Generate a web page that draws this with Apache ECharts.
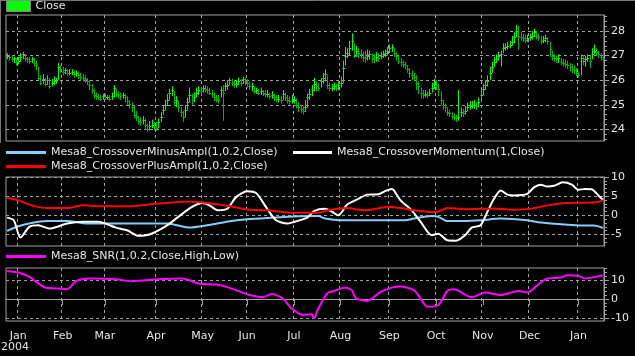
<!DOCTYPE html>
<html><head><meta charset="utf-8">
<script src="https://cdn.jsdelivr.net/npm/echarts@6/dist/echarts.min.js"></script>
<style>html,body{margin:0;padding:0;background:#000;}#c{width:635px;height:356px;}</style>
</head><body><div id="c"></div>
<script>
// ---- trading calendar ----
const firstDay = '2003-12-24';
const lastDay = '2005-01-19';
const holidays = ['2003-12-25','2004-01-01','2004-01-19','2004-02-16','2004-04-09','2004-05-31','2004-06-11','2004-07-05','2004-09-06','2004-11-25','2004-12-24','2005-01-17'];
const monthNames = ['Jan','Feb','Mar','Apr','May','Jun','Jul','Aug','Sep','Oct','Nov','Dec'];

// ---- price (Close) bars ----
const closes = [
27.0,26.95,26.85,26.9,26.75,26.8,26.95,27.05,26.9,26.85,
26.8,26.85,26.7,26.6,26.1,25.9,26.05,25.85,26.0,25.75,
25.9,25.95,26.0,26.55,26.45,26.35,26.4,26.3,26.3,26.35,
26.25,26.3,26.2,26.15,26.1,26.05,25.95,25.8,25.6,25.4,
25.35,25.3,25.25,25.35,25.3,25.3,25.25,25.35,25.7,25.45,
25.4,25.35,25.4,25.3,25.15,25.05,24.9,24.6,24.5,24.35,
24.3,24.4,24.2,24.0,24.15,24.2,24.1,24.05,24.3,24.5,
24.8,25.0,25.2,25.5,25.6,25.1,25.2,24.9,24.7,24.5,
24.8,25.1,25.4,25.2,25.3,25.5,25.6,25.55,25.7,25.65,
25.6,25.5,25.45,25.3,25.25,25.2,25.6,25.5,25.75,25.8,
26.0,25.9,25.85,25.85,25.95,25.9,26.05,25.95,25.9,25.75,
25.75,25.55,25.6,25.5,25.55,25.5,25.45,25.45,25.35,25.4,
25.3,25.25,25.25,25.2,25.45,25.3,25.2,25.15,25.2,25.2,
25.0,24.9,24.85,24.75,24.9,25.3,25.45,25.6,25.85,25.75,
25.7,25.95,26.1,26.25,25.8,25.7,25.7,25.75,25.7,25.8,
25.9,26.5,27.0,27.1,27.3,27.6,27.0,27.2,27.1,27.05,
26.95,26.9,27.0,27.05,26.9,26.85,26.95,26.9,27.0,27.05,
27.1,27.2,27.3,27.35,27.1,27.0,26.8,26.75,26.65,26.6,
26.45,26.3,26.2,26.15,25.9,25.75,25.5,25.4,25.45,25.4,
25.5,25.7,25.85,25.8,25.65,25.2,25.0,24.9,24.7,24.65,
24.55,24.5,24.45,24.5,24.7,24.65,24.75,24.9,24.95,25.0,
25.0,24.95,25.1,25.4,25.65,25.8,25.95,26.3,26.55,26.75,
26.85,27.0,27.05,27.3,27.35,27.4,27.45,27.55,27.75,28.0,
27.8,27.75,27.7,27.65,27.7,27.75,27.8,27.95,27.8,27.75,
27.6,27.65,27.7,27.6,27.25,27.0,26.9,26.85,26.9,26.75,
26.7,26.65,26.6,26.55,26.45,26.4,26.3,26.2,26.9,26.8,
26.85,26.9,26.8,27.05,27.2,27.15,27.05,26.95,26.85];
const highs = [
27.1,27.05,27.0,26.95,26.9,26.95,27.1,27.15,27.05,26.95,
26.95,26.95,26.9,26.8,26.55,26.2,26.25,26.1,26.2,26.1,
26.05,26.15,26.1,26.7,26.6,26.55,26.5,26.45,26.45,26.45,
26.4,26.4,26.35,26.3,26.25,26.2,26.1,26.0,25.85,25.65,
25.5,25.45,25.4,25.45,25.45,25.4,25.4,25.5,25.8,25.65,
25.55,25.5,25.5,25.45,25.35,25.2,25.1,24.95,24.75,24.55,
24.5,24.55,24.45,24.25,24.35,24.4,24.3,24.3,24.45,24.7,
24.95,25.2,25.45,25.65,25.75,25.55,25.35,25.15,24.9,24.75,
25.0,25.3,25.7,25.45,25.5,25.7,25.75,25.7,25.8,25.8,
25.75,25.7,25.6,25.5,25.4,25.4,25.75,25.8,25.9,26.0,
26.1,26.05,26.0,26.0,26.1,26.05,26.15,26.1,26.05,25.95,
25.9,25.75,25.7,25.65,25.7,25.6,25.6,25.6,25.5,25.55,
25.45,25.4,25.4,25.35,25.6,25.5,25.4,25.35,25.4,25.35,
25.25,25.1,25.0,24.95,25.2,25.45,25.65,25.8,26.1,25.95,
25.9,26.1,26.3,26.45,26.2,25.9,25.85,25.9,25.85,25.95,
26.15,26.8,27.35,27.3,27.6,27.9,27.5,27.4,27.3,27.25,
27.15,27.2,27.25,27.2,27.1,27.05,27.15,27.1,27.15,27.2,
27.25,27.35,27.45,27.45,27.3,27.15,27.0,26.9,26.8,26.75,
26.6,26.5,26.4,26.3,26.2,25.95,25.7,25.6,25.6,25.55,
25.65,25.9,26.05,26.0,25.85,25.55,25.2,25.05,24.9,24.8,
24.7,24.65,24.6,25.6,24.9,24.85,24.95,25.1,25.15,25.15,
25.2,25.1,25.3,25.6,25.85,26.0,26.2,26.55,26.75,26.95,
27.05,27.15,27.2,27.5,27.5,27.55,27.6,27.8,27.95,28.25,
28.2,27.95,27.9,27.85,27.85,27.9,28.0,28.1,28.0,27.9,
27.8,27.8,27.85,27.75,27.55,27.2,27.05,27.0,27.05,26.9,
26.85,26.85,26.8,26.7,26.65,26.6,26.5,26.35,27.05,27.0,
27.0,27.05,27.0,27.3,27.45,27.3,27.2,27.1,27.0];
const lows = [
26.85,26.8,26.75,26.7,26.6,26.65,26.75,26.85,26.75,26.7,
26.65,26.7,26.55,26.4,26.0,25.8,25.85,25.75,25.8,25.65,
25.75,25.8,25.85,26.0,26.3,26.2,26.25,26.15,26.2,26.2,
26.1,26.15,26.05,26.0,25.95,25.9,25.8,25.6,25.45,25.25,
25.2,25.2,25.15,25.2,25.2,25.2,25.15,25.2,25.3,25.3,
25.25,25.2,25.25,25.1,25.0,24.85,24.7,24.45,24.35,24.2,
24.15,24.2,24.0,23.9,23.95,24.05,23.95,23.95,24.05,24.3,
24.6,24.8,24.95,25.2,25.35,24.95,24.9,24.7,24.5,24.3,
24.5,24.8,25.1,25.0,25.1,25.3,25.4,25.4,25.5,25.5,
25.45,25.4,25.3,25.15,25.1,25.05,25.3,24.35,25.55,25.6,
25.8,25.75,25.7,25.7,25.8,25.75,25.85,25.8,25.7,25.6,
25.55,25.45,25.45,25.4,25.4,25.35,25.3,25.3,25.25,25.25,
25.15,25.1,25.1,25.05,25.2,25.15,25.05,25.0,25.05,25.05,
24.85,24.7,24.65,24.6,24.7,24.9,25.2,25.35,25.55,25.55,
25.55,25.7,25.85,25.95,25.65,25.55,25.55,25.6,25.55,25.6,
25.7,25.9,26.6,26.9,27.0,27.2,26.9,26.95,26.9,26.85,
26.75,26.7,26.8,26.85,26.7,26.7,26.75,26.75,26.85,26.9,
26.95,27.0,27.1,27.15,26.95,26.8,26.65,26.55,26.5,26.45,
26.3,26.1,26.0,25.95,25.6,25.45,25.25,25.25,25.3,25.25,
25.35,25.5,25.65,25.6,25.35,25.0,24.8,24.7,24.55,24.5,
24.4,24.35,24.3,24.35,24.5,24.5,24.6,24.75,24.8,24.85,
24.85,24.8,24.9,25.15,25.4,25.6,25.75,26.0,26.3,26.55,
26.7,26.8,26.55,27.1,27.2,27.25,27.3,27.4,27.5,27.75,
27.25,27.6,27.55,27.5,27.55,27.6,27.65,27.75,27.65,27.6,
27.45,27.5,27.55,27.45,26.95,26.8,26.75,26.7,26.7,26.6,
26.55,26.5,26.45,26.35,26.3,26.25,26.15,26.1,26.2,26.6,
26.55,26.75,26.5,26.85,27.05,27.0,26.9,26.8,26.75];

// ---- indicator lines: [trading-day index, value] ----
const minusAmpl = [[0,-4.05],[5,-2.85],[11,-2.0],[18,-1.5],[27,-1.5],[36,-2.15],[41,-2.1],[72,-2.1],[82,-3.2],[90,-2.6],[101,-1.5],[108,-1.05],[117,-0.7],[131,-0.25],[140,-0.2],[143,-0.85],[150,-1.3],[168,-1.3],[179,-1.3],[183,-0.85],[191,-0.15],[194,-0.4],[198,-1.5],[206,-1.5],[213,-1.3],[222,-0.85],[234,-1.3],[240,-1.9],[251,-2.4],[258,-2.65],[264,-2.65],[268,-3.3]];
const momentum = [[0,-0.6],[3,-1.3],[6,-5.8],[10,-3.0],[14,-2.6],[19,-3.45],[27,-2.15],[34,-1.7],[41,-1.7],[49,-3.2],[54,-3.9],[59,-5.35],[64,-5.0],[72,-2.6],[77,-0.4],[83,2.15],[88,3.2],[91,2.6],[95,1.3],[99,1.7],[103,4.75],[108,6.3],[112,5.8],[117,1.7],[121,-1.3],[126,-2.15],[128,-1.9],[135,-0.6],[138,1.1],[143,1.7],[146,1.0],[149,0.0],[153,2.8],[158,4.3],[162,5.4],[167,5.5],[170,6.3],[173,6.9],[174,6.5],[177,3.9],[182,1.3],[186,-1.7],[191,-5.2],[194,-4.8],[198,-6.5],[202,-6.6],[206,-5.2],[209,-3.2],[213,-2.6],[216,0.85],[219,4.3],[222,6.5],[225,5.4],[228,5.2],[234,5.6],[237,7.3],[240,8.0],[243,7.5],[246,7.7],[250,8.6],[254,8.0],[257,6.65],[260,6.9],[263,6.8],[266,5.2],[268,4.05]];
const plusAmpl = [[0,4.6],[5,3.9],[11,2.6],[18,1.9],[27,1.9],[34,2.6],[41,2.4],[56,2.4],[67,3.0],[82,3.6],[90,3.2],[101,2.3],[108,1.55],[117,1.3],[127,0.7],[140,0.7],[144,1.3],[153,1.9],[161,1.3],[171,2.15],[177,1.9],[183,1.3],[191,0.85],[194,1.0],[198,1.9],[206,1.6],[213,1.75],[221,1.75],[228,1.45],[236,1.75],[243,2.6],[251,3.2],[258,3.3],[265,3.4],[268,3.9]];
const snr = [[0,14.7],[5,13.9],[10,11.6],[17,6.1],[22,5.6],[27,5.2],[31,9.4],[37,10.8],[49,10.4],[56,9.4],[68,10.4],[79,10.8],[86,8.2],[94,7.6],[99,6.25],[109,2.1],[115,1.0],[119,2.6],[124,0.3],[128,-4.9],[133,-8.3],[137,-8.0],[138,-10.1],[140,-4.9],[144,3.0],[147,4.2],[152,6.1],[155,4.7],[157,0.3],[162,-1.0],[168,3.8],[173,6.0],[177,6.6],[183,4.7],[186,0.3],[189,-4.0],[194,-3.1],[198,4.2],[201,5.1],[209,0.9],[215,3.5],[222,2.1],[230,4.2],[234,3.5],[240,8.7],[243,10.8],[249,11.3],[252,12.5],[257,12.1],[260,10.8],[264,11.5],[268,12.5]];

// ---- tick labels ----
const priceTicks = [24,25,26,27,28];
const priceMinor = [23.6,23.8,24.2,24.4,24.6,24.8,25.2,25.4,25.6,25.8,26.2,26.4,26.6,26.8,27.2,27.4,27.6,27.8,28.2,28.4,28.6];
const midTicks = [-5,0,5,10];
const midMinor = [-7,-6,-4,-3,-2,-1,1,2,3,4,6,7,8,9];
const snrTicks = [-10,0,10];
const snrMinor = [-8,-6,-4,-2,2,4,6,8,12,14,16];

// build category dates
const days = [];
(function(){
  const hol = new Set(holidays);
  let d = new Date(firstDay + 'T00:00:00Z');
  const end = new Date(lastDay + 'T00:00:00Z');
  while (d <= end) {
    const wd = d.getUTCDay();
    const s = d.toISOString().slice(0,10);
    if (wd !== 0 && wd !== 6 && !hol.has(s)) days.push(s);
    d = new Date(d.getTime() + 86400000);
  }
})();
const isMonthStart = (i) => i > 0 && days[i].slice(0,7) !== days[i-1].slice(0,7);

const GRID_C = '#a0a0a0';
const TXT_C = '#e6e6e6';
const FONT = 'DejaVu Sans';
const FS = 11;
const dash = {color: GRID_C, type: [3,3], width: 1};

function xAxisFor(g, showLabels){
  return {
    type:'category', gridIndex:g, data:days, boundaryGap:true,
    axisLine:{show: showLabels, lineStyle:{color:GRID_C}},
    axisTick:{show: showLabels, alignWithLabel:true, length:6, interval:(i)=>isMonthStart(i), lineStyle:{color:GRID_C}},
    axisLabel:{show: showLabels, interval:(i)=>isMonthStart(i), formatter:(v)=>monthNames[parseInt(v.slice(5,7),10)-1], color:TXT_C, fontFamily:FONT, fontSize:FS, margin:10},
    splitLine:{show:true, interval:(i)=>isMonthStart(i), lineStyle:dash}
  };
}
function yMain(g, min, max, ticks){
  return {
    type:'value', gridIndex:g, position:'right', min:min, max:max, scale:true,
    axisLine:{show:true, lineStyle:{color:GRID_C}},
    axisTick:{show:true, length:5, customValues:ticks, lineStyle:{color:GRID_C}},
    axisLabel:{show:true, customValues:ticks, color:TXT_C, fontFamily:FONT, fontSize:FS, margin:7},
    splitLine:{show:true, lineStyle:dash}
  };
}
function yMinor(g, min, max, ticks){
  return {
    type:'value', gridIndex:g, position:'right', min:min, max:max, scale:true,
    axisLine:{show:false},
    axisTick:{show:true, length:3, customValues:ticks, lineStyle:{color:GRID_C}},
    axisLabel:{show:false}, splitLine:{show:false}
  };
}

const chart = echarts.init(document.getElementById('c'), null, {renderer:'canvas'});
const legendBase = {selectedMode:false, textStyle:{color:TXT_C, fontFamily:FONT, fontSize:FS}, itemGap:5, padding:0};
chart.setOption({
  backgroundColor:'#000',
  animation:false,
  grid:[
    {left:6, right:31, top:15, height:126, show:true, borderColor:GRID_C, borderWidth:1, backgroundColor:'#000'},
    {left:6, right:31, top:177, height:69, show:true, borderColor:GRID_C, borderWidth:1, backgroundColor:'#000'},
    {left:6, right:31, top:268, height:53, show:true, borderColor:GRID_C, borderWidth:1, backgroundColor:'#000'}
  ],
  xAxis:[xAxisFor(0,false), xAxisFor(1,false), xAxisFor(2,true)],
  yAxis:[
    yMain(0, 23.53, 28.65, priceTicks), yMinor(0, 23.53, 28.65, priceMinor),
    yMain(1, -8, 10, midTicks), yMinor(1, -8, 10, midMinor),
    yMain(2, -11.5, 16.3, snrTicks), yMinor(2, -11.5, 16.3, snrMinor)
  ],
  legend:[
    Object.assign({}, legendBase, {data:[{name:'Close', icon:'rect', itemStyle:{borderColor:'#8a8a8a', borderWidth:1}}], left:6, top:0, itemWidth:24, itemHeight:11}),
    Object.assign({}, legendBase, {data:[{name:'Mesa8_CrossoverMinusAmpl(1,0.2,Close)', icon:'rect'}], left:6, top:147, itemWidth:40, itemHeight:3}),
    Object.assign({}, legendBase, {data:[{name:'Mesa8_CrossoverMomentum(1,Close)', icon:'rect'}], left:293, top:147, itemWidth:39, itemHeight:3}),
    Object.assign({}, legendBase, {data:[{name:'Mesa8_CrossoverPlusAmpl(1,0.2,Close)', icon:'rect'}], left:6, top:161, itemWidth:40, itemHeight:3}),
    Object.assign({}, legendBase, {data:[{name:'Mesa8_SNR(1,0.2,Close,High,Low)', icon:'rect'}], left:6, top:251, itemWidth:40, itemHeight:3})
  ],
  graphic:[
    {type:'text', left:1, top:342, style:{text:'2004', fill:TXT_C, font:'11px "DejaVu Sans"'}},
    {type:'line', shape:{x1:0, y1:0.5, x2:635, y2:0.5}, style:{stroke:'#777', lineWidth:1}},
    {type:'line', shape:{x1:0.5, y1:0, x2:0.5, y2:143}, style:{stroke:'#777', lineWidth:1}}
  ],
  series:[
    {
      name:'Close', type:'custom', xAxisIndex:0, yAxisIndex:0, color:'#00ff00',
      data: closes.map((c,i)=>[i, highs[i], lows[i], c]),
      encode:{x:0, y:[1,2,3]},
      renderItem:function(params, api){
        const i = api.value(0);
        const pH = api.coord([i, api.value(1)]);
        const pL = api.coord([i, api.value(2)]);
        const pC = api.coord([i, api.value(3)]);
        const up = i === 0 || closes[i] >= closes[i-1];
        const col = up ? '#00ff00' : '#00b800';
        const x = Math.round(pH[0]) + 0.5;
        const yc = Math.round(pC[1]) + 0.5;
        return {type:'group', children:[
          {type:'line', shape:{x1:x, y1:pH[1], x2:x, y2:pL[1]}, style:{stroke:col, lineWidth:1}},
          {type:'line', shape:{x1:x-1, y1:yc, x2:x+1.5, y2:yc}, style:{stroke:col, lineWidth:1}}
        ]};
      }
    },
    {name:'Mesa8_CrossoverMinusAmpl(1,0.2,Close)', type:'line', xAxisIndex:1, yAxisIndex:2, data:minusAmpl, smooth:0.25, showSymbol:false, color:'#87cefa', lineStyle:{width:2}},
    {name:'Mesa8_CrossoverMomentum(1,Close)', type:'line', xAxisIndex:1, yAxisIndex:2, data:momentum, smooth:0.25, showSymbol:false, color:'#ffffff', lineStyle:{width:2}},
    {name:'Mesa8_CrossoverPlusAmpl(1,0.2,Close)', type:'line', xAxisIndex:1, yAxisIndex:2, data:plusAmpl, smooth:0.25, showSymbol:false, color:'#ff0000', lineStyle:{width:2}},
    {name:'Mesa8_SNR(1,0.2,Close,High,Low)', type:'line', xAxisIndex:2, yAxisIndex:4, data:snr, smooth:0.25, showSymbol:false, color:'#ff00ff', lineStyle:{width:2}}
  ]
});
</script></body></html>
